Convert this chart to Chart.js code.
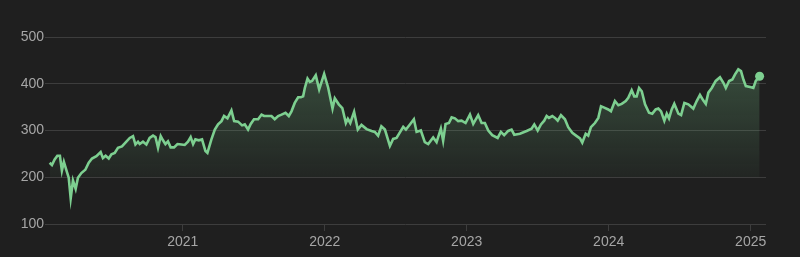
<!DOCTYPE html>
<html>
<head>
<meta charset="utf-8">
<script src="https://cdn.jsdelivr.net/npm/chart.js@4"></script>
<style>
  html, body { margin: 0; padding: 0; background: #1f1f1f; }
  #wrap { width: 800px; height: 257px; }
</style>
</head>
<body>
<div id="wrap"><canvas id="priceChart"></canvas></div>
<script>
// fractional years (weekly-ish samples)
var dates = [
  2020.063, 2020.079, 2020.098, 2020.117, 2020.135, 2020.149, 2020.163, 2020.180, 2020.197, 2020.211,
  2020.227, 2020.246, 2020.262, 2020.286, 2020.314, 2020.338, 2020.361, 2020.392, 2020.422, 2020.438,
  2020.457, 2020.479, 2020.498, 2020.521, 2020.544, 2020.572, 2020.603, 2020.627, 2020.650, 2020.667,
  2020.685, 2020.697, 2020.720, 2020.744, 2020.767, 2020.791, 2020.808, 2020.826, 2020.845, 2020.861,
  2020.878, 2020.896, 2020.915, 2020.939, 2020.963, 2020.991, 2021.014, 2021.037, 2021.056, 2021.073,
  2021.089, 2021.113, 2021.136, 2021.160, 2021.174, 2021.202, 2021.226, 2021.249, 2021.273, 2021.291,
  2021.315, 2021.343, 2021.362, 2021.390, 2021.418, 2021.437, 2021.460, 2021.479, 2021.502, 2021.531,
  2021.555, 2021.573, 2021.601, 2021.625, 2021.648, 2021.672, 2021.696, 2021.724, 2021.747, 2021.766,
  2021.789, 2021.813, 2021.832, 2021.848, 2021.860, 2021.879, 2021.895, 2021.911, 2021.937, 2021.961,
  2021.996, 2022.024, 2022.055, 2022.071, 2022.099, 2022.124, 2022.149, 2022.163, 2022.180, 2022.207,
  2022.233, 2022.259, 2022.295, 2022.330, 2022.353, 2022.376, 2022.399, 2022.424, 2022.459, 2022.482,
  2022.506, 2022.553, 2022.572, 2022.600, 2022.628, 2022.647, 2022.677, 2022.705, 2022.729, 2022.764,
  2022.788, 2022.818, 2022.834, 2022.851, 2022.875, 2022.894, 2022.917, 2022.940, 2022.964, 2022.992,
  2023.023, 2023.046, 2023.081, 2023.105, 2023.128, 2023.152, 2023.180, 2023.218, 2023.241, 2023.264,
  2023.292, 2023.316, 2023.335, 2023.375, 2023.422, 2023.457, 2023.476, 2023.500, 2023.523, 2023.546,
  2023.563, 2023.579, 2023.603, 2023.622, 2023.641, 2023.664, 2023.692, 2023.715, 2023.744, 2023.775,
  2023.798, 2023.814, 2023.838, 2023.856, 2023.875, 2023.903, 2023.927, 2023.946, 2023.969, 2023.997,
  2024.016, 2024.044, 2024.068, 2024.092, 2024.120, 2024.138, 2024.162, 2024.180, 2024.197, 2024.214,
  2024.233, 2024.256, 2024.284, 2024.307, 2024.331, 2024.350, 2024.369, 2024.392, 2024.409, 2024.425,
  2024.444, 2024.462, 2024.491, 2024.510, 2024.533, 2024.561, 2024.596, 2024.620, 2024.643, 2024.667,
  2024.684, 2024.702, 2024.726, 2024.754, 2024.784, 2024.808, 2024.825, 2024.848, 2024.871, 2024.890,
  2024.913, 2024.932, 2024.949, 2024.966, 2024.996, 2025.019, 2025.036, 2025.063
];

var prices = [
  231, 226, 238, 246, 246, 214, 233, 216, 199, 155,
  193, 175, 199, 209, 216, 231, 240, 245, 254, 241,
  246, 240, 249, 252, 263, 266, 276, 284, 288, 270,
  276, 271, 276, 270, 284, 289, 286, 263, 288, 279,
  271, 277, 264, 264, 271, 270, 269, 276, 286, 271,
  281, 279, 281, 256, 252, 281, 302, 313, 320, 331,
  326, 343, 320, 319, 311, 313, 302, 314, 324, 324,
  334, 331, 331, 331, 324, 331, 334, 338, 331, 341,
  359, 371, 371, 373, 391, 411, 404, 406, 418, 388,
  421, 392, 347, 369, 356, 348, 316, 325, 316, 340,
  302, 312, 303, 299, 297, 289, 309, 302, 267, 282,
  284, 308, 302, 313, 324, 297, 300, 275, 271, 285,
  275, 304, 278, 314, 316, 328, 326, 320, 321, 316,
  334, 314, 333, 316, 316, 300, 290, 284, 297, 290,
  299, 302, 291, 293, 299, 304, 313, 300, 313, 321,
  331, 327, 331, 327, 321, 333, 324, 307, 295, 288,
  283, 274, 293, 289, 307, 316, 327, 352, 349, 345,
  341, 363, 354, 357, 363, 370, 386, 373, 373, 391,
  384, 356, 338, 336, 345, 347, 341, 321, 336, 326,
  345, 357, 336, 333, 359, 356, 347, 363, 376, 364,
  357, 381, 391, 406, 414, 402, 391, 406, 409, 420,
  431, 427, 409, 395, 393, 391, 406, 416
];

var yearTicks = [2021, 2022, 2023, 2024, 2025];
var valueTicks = [100, 200, 300, 400, 500];

var lineColor = '#7dcf90';
var gridColor = '#3d3d3d';
var labelColor = '#a6a6a6';

var points = [];
for (var i = 0; i < dates.length; i++) {
  points.push({ x: dates[i], y: prices[i] });
}

function fillGradient(context) {
  var chart = context.chart;
  var area = chart.chartArea;
  if (!area) return 'rgba(125,207,144,0.1)';
  var yScale = chart.scales.y;
  var top = yScale.getPixelForValue(430);
  var bottom = yScale.getPixelForValue(200);
  var g = chart.ctx.createLinearGradient(0, top, 0, bottom);
  g.addColorStop(0, 'rgba(125,207,144,0.25)');
  g.addColorStop(1, 'rgba(125,207,144,0.04)');
  return g;
}

var ctx = document.getElementById('priceChart').getContext('2d');
var chart = new Chart(ctx, {
  type: 'line',
  data: {
    datasets: [{
      data: points,
      borderColor: lineColor,
      borderWidth: 2.6,
      backgroundColor: fillGradient,
      fill: { value: 200 },
      tension: 0,
      pointRadius: function (c) { return c.dataIndex === points.length - 1 ? 4.5 : 0; },
      pointBackgroundColor: lineColor,
      pointBorderWidth: 0,
      pointHoverRadius: 0
    }]
  },
  options: {
    responsive: true,
    maintainAspectRatio: false,
    animation: false,
    layout: { padding: { top: 37, right: 34, left: 0, bottom: 0 } },
    plugins: {
      legend: { display: false },
      tooltip: { enabled: false }
    },
    scales: {
      x: {
        type: 'linear',
        min: 2020.03,
        max: 2025.108,
        afterBuildTicks: function (scale) {
          scale.ticks = yearTicks.map(function (v) { return { value: v }; });
        },
        afterFit: function (scale) { scale.height = 33; },
        ticks: {
          color: labelColor,
          font: { family: 'Liberation Sans, Arial, sans-serif', size: 14 },
          padding: 3,
          maxRotation: 0,
          callback: function (v) { return String(v); }
        },
        grid: { drawOnChartArea: false, drawTicks: true, tickLength: 7, color: gridColor, lineWidth: 1 },
        border: { display: false }
      },
      y: {
        min: 100,
        max: 500,
        afterBuildTicks: function (scale) {
          scale.ticks = valueTicks.map(function (v) { return { value: v }; });
        },
        afterFit: function (scale) { scale.width = 45; },
        ticks: {
          color: labelColor,
          font: { family: 'Liberation Sans, Arial, sans-serif', size: 14 },
          padding: 1
        },
        grid: { color: gridColor, lineWidth: 1, drawTicks: false },
        border: { display: false }
      }
    }
  }
});
</script>
</body>
</html>
